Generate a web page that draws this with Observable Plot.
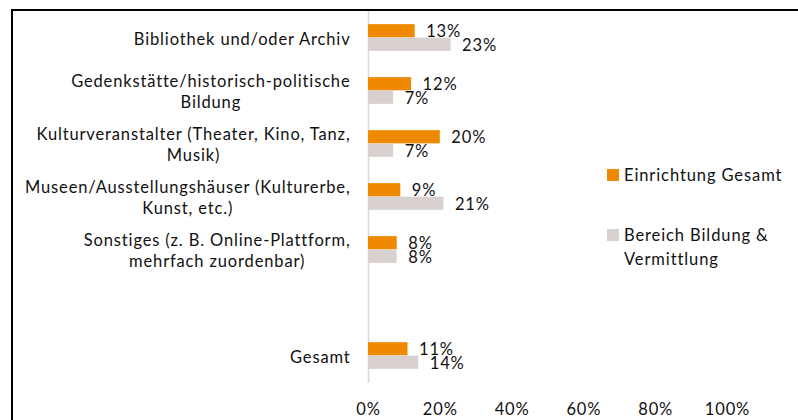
<!DOCTYPE html>
<html><head><meta charset="utf-8">
<script src="https://cdn.jsdelivr.net/npm/d3@7"></script>
<script src="https://cdn.jsdelivr.net/npm/@observablehq/plot@0.6"></script>
<style>
body{margin:0;background:#fff;font-family:Lato,"Noto Sans",sans-serif;color:#111;}
#wrap{position:relative;width:798px;height:420px;overflow:hidden;}
#border{position:absolute;left:11px;top:9px;width:820px;height:440px;border-top:2px solid #000;border-left:2px solid #000;pointer-events:none;}
.lg{position:absolute;left:607px;font-size:16.5px;line-height:24px;letter-spacing:0.9px;}
.lg .sw{position:absolute;left:0;width:11.5px;height:11.5px;}
.lg .tx{position:absolute;left:17px;white-space:nowrap;}
</style>
</head><body>
<div id="wrap"><div id="chart"></div><div id="border"></div></div>
<script>
const categories = ["Bibliothek und/oder Archiv", "Gedenkstätte/historisch-politische Bildung", "Kulturveranstalter (Theater, Kino, Tanz, Musik)", "Museen/Ausstellungshäuser (Kulturerbe, Kunst, etc.)", "Sonstiges (z. B. Online-Plattform, mehrfach zuordenbar)", "", "Gesamt"];
const tickLabels = ["Bibliothek und/oder Archiv", "Gedenkstätte/historisch-politische\nBildung", "Kulturveranstalter (Theater, Kino, Tanz,\nMusik)", "Museen/Ausstellungshäuser (Kulturerbe,\nKunst, etc.)", "Sonstiges (z. B. Online-Plattform,\nmehrfach zuordenbar)", "", "Gesamt"];
const series = ["Einrichtung Gesamt", "Bereich Bildung & Vermittlung"];
const legendLabels = ["Einrichtung Gesamt", "Bereich Bildung &\nVermittlung"];
const colors = ["#EF8A00", "#D8D1CF"];
const einrichtung = [13, 12, 20, 9, 8, null, 11];
const bereich = [23, 7, 7, 21, 8, null, 14];
const xTicks = [0, 20, 40, 60, 80, 100];

const W = 798, H = 420, mt = 10, mb = 37, ml = 368, mr = 71;
const band = (H - mt - mb) / categories.length;
const barH = 13.5;

const rows = categories.flatMap((c, i) => [
  {cat: c, series: series[0], value: einrichtung[i]},
  {cat: c, series: series[1], value: bereich[i]}
]).filter(d => d.value != null);
const s0 = rows.filter(d => d.series === series[0]);
const s1 = rows.filter(d => d.series === series[1]);

const plot = Plot.plot({
  width: W, height: H,
  marginTop: mt, marginBottom: mb, marginLeft: ml, marginRight: mr,
  style: {fontFamily: "Lato, 'Noto Sans', sans-serif", fontSize: "16.5px", letterSpacing: "0.85px", color: "#111", background: "transparent"},
  x: {domain: [0, 100]},
  y: {domain: categories, padding: 0},
  color: {domain: series, range: colors},
  marks: [
    Plot.ruleX([0], {stroke: "#d9d9d9", strokeWidth: 1.5}),
    Plot.barX(s0, {x: "value", y: "cat", fill: "series", insetTop: band / 2 - barH, insetBottom: band / 2}),
    Plot.barX(s1, {x: "value", y: "cat", fill: "series", insetTop: band / 2, insetBottom: band / 2 - barH}),
    Plot.text(s0, {x: "value", y: "cat", text: d => d.value + "%", textAnchor: "start", dx: 11, dy: -barH / 2, fill: "#111"}),
    Plot.text(s1, {x: "value", y: "cat", text: d => d.value + "%", textAnchor: "start", dx: 11, dy: barH / 2 + 1, fill: "#111"}),
    Plot.axisY({tickSize: 0, tickPadding: 18, label: null, lineHeight: 1.28, tickFormat: c => tickLabels[categories.indexOf(c)]}),
    Plot.axisX({ticks: xTicks, tickFormat: d => d + "%", tickSize: 0, tickPadding: 20, label: null})
  ]
});
document.getElementById("chart").appendChild(plot);

// Excel-style: wrapped category labels are centered within their right-aligned block
plot.querySelectorAll('g[aria-label="y-axis tick label"] text').forEach(t => {
  const tsp = t.querySelectorAll("tspan");
  if (tsp.length < 2) return;
  const w = t.getBBox().width;
  t.setAttribute("text-anchor", "middle");
  tsp.forEach(s => s.setAttribute("x", -w / 2));
});

// legend
const wrap = document.getElementById("wrap");
const tops = [163, 223];
series.forEach((s, i) => {
  const g = document.createElement("div");
  g.className = "lg";
  g.style.top = tops[i] + "px";
  const sw = document.createElement("div");
  sw.className = "sw"; sw.style.background = colors[i]; sw.style.top = "6px";
  const tx = document.createElement("div");
  tx.className = "tx";
  tx.innerHTML = legendLabels[i].split("\n").join("<br>");
  g.appendChild(sw); g.appendChild(tx);
  wrap.appendChild(g);
});
</script>
</body></html>
